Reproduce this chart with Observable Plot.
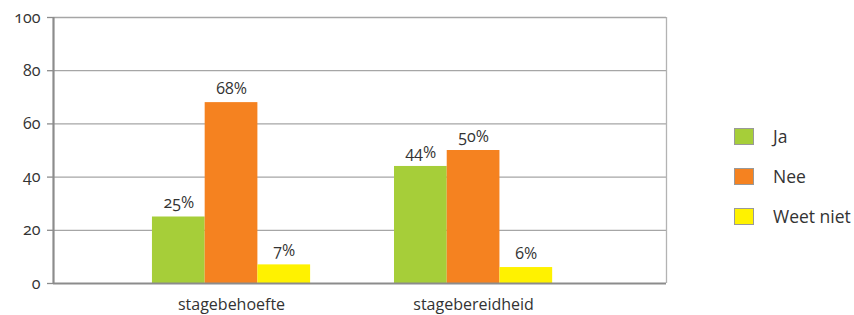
<!DOCTYPE html>
<html>
<head>
<meta charset="utf-8">
<script src="https://cdn.jsdelivr.net/npm/d3@7"></script>
<script src="https://cdn.jsdelivr.net/npm/@observablehq/plot@0.6"></script>
<style>
  html, body { margin: 0; padding: 0; background: #fff; }
  #wrap { position: relative; width: 854px; height: 315px; font-family: "Open Sans", sans-serif; font-variant-numeric: oldstyle-nums; font-feature-settings: "onum"; }
  #legend { position: absolute; left: 734px; top: 116px; color: #333; font-size: 17.5px; }
  .row { display: flex; align-items: center; height: 40px; }
  .sw { width: 20px; height: 17px; border: 1px solid #999; box-sizing: border-box; margin-right: 19px; }
  svg text, svg g { font-variant-numeric: oldstyle-nums !important; font-feature-settings: "onum" !important; }
</style>
</head>
<body>
<div id="wrap"></div>
<script>
const groups = ["stagebehoefte", "stagebereidheid"];
const series = ["Ja", "Nee", "Weet niet"];
const colors = ["#a6ce39", "#f58220", "#fff200"];
const valuesJa = [25, 44];
const valuesNee = [68, 50];
const valuesWeet = [7, 6];
const yTicks = [0, 20, 40, 60, 80, 100];

const seriesValues = [valuesJa, valuesNee, valuesWeet];
const bw = 0.2178;
const data = [];
groups.forEach((g, i) => {
  series.forEach((s, j) => {
    data.push({group: g, gi: i, series: s, si: j, value: seriesValues[j][i]});
  });
});

const xDomain = [-0.7355, 1.797];
const axisColor = "#8c8c8c";
const fv = "oldstyle-nums";

const chart = Plot.plot({
  width: 854,
  height: 315,
  marginLeft: 53,
  marginRight: 188,
  marginTop: 17,
  marginBottom: 32,
  style: {fontFamily: "'Open Sans', sans-serif", fontSize: "16px", color: "#333", background: "#fff", fontVariant: fv},
  x: {type: "linear", domain: xDomain},
  y: {domain: [0, 100]},
  color: {domain: series, range: colors},
  marks: [
    Plot.ruleY(yTicks.filter(d => d > 0), {stroke: "#a6a6a6", strokeWidth: 1.3}),
    Plot.ruleX([xDomain[1]], {stroke: "#b3b3b3", strokeWidth: 1.3}),
    Plot.rectY(data, {
      x1: d => d.gi + (d.si - 1.5) * bw,
      x2: d => d.gi + (d.si - 0.5) * bw,
      y1: 0,
      y2: "value",
      fill: "series"
    }),
    Plot.text(data, {
      x: d => d.gi + (d.si - 1) * bw,
      y: "value",
      text: d => d.value + "%",
      dy: -14,
      fill: "#333",
      fontSize: 16,
      fontVariant: fv
    }),
    Plot.ruleX([xDomain[0]], {stroke: axisColor, strokeWidth: 2.2}),
    Plot.ruleY([0], {stroke: axisColor, strokeWidth: 2.2}),
    Plot.axisY({ticks: yTicks, tickSize: 6, tickPadding: 7, stroke: axisColor, strokeWidth: 1.3, fill: "#333", fontSize: 16, fontVariant: fv, label: null}),
    Plot.axisX({ticks: [0, 1], tickFormat: d => groups[d], tickSize: 0, tickPadding: 13, dy: 2, fill: "#333", fontSize: 16, label: null})
  ]
});

const wrap = document.getElementById("wrap");
wrap.appendChild(chart);
const legend = document.createElement("div");
legend.id = "legend";
series.forEach((s, j) => {
  const row = document.createElement("div");
  row.className = "row";
  const sw = document.createElement("div");
  sw.className = "sw";
  sw.style.background = colors[j];
  const t = document.createElement("span");
  t.textContent = s;
  row.appendChild(sw);
  row.appendChild(t);
  legend.appendChild(row);
});
wrap.appendChild(legend);
</script>
</body>
</html>
